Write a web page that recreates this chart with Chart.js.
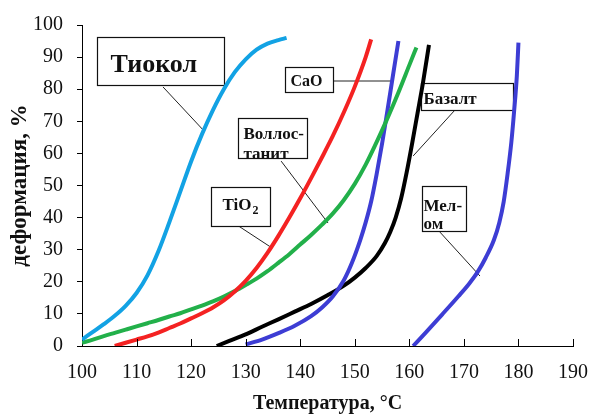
<!DOCTYPE html>
<html>
<head>
<meta charset="utf-8">
<script src="https://cdn.jsdelivr.net/npm/chart.js@4"></script>
<style>
  html, body { margin: 0; padding: 0; background: #fff; }
  #wrap { width: 591px; height: 416px; }
</style>
</head>
<body>
<div id="wrap"><canvas id="c" width="591" height="416"></canvas></div>
<script>
// Tick values of both axes
const xTicks = [100, 110, 120, 130, 140, 150, 160, 170, 180, 190];
const yTicks = [0, 10, 20, 30, 40, 50, 60, 70, 80, 90, 100];

// Deformation (%) versus temperature (°C), pairs [T, D]
const thiokol = [[100,2],[102,4.4],[104,6.8],[106,9.4],[108,12.5],[110,16.5],[112,22],[114,29.5],[116,38.5],[118,48],[120,57.5],[122,66],[124,73.5],[126,80],[128,85.3],[130,89.3],[132,92.3],[134,94.2],[136,95.3],[137.5,96]];
const tio2 = [[106,0],[108,1],[110,2],[112,3],[114,4.2],[116,5.6],[118,7],[120,8.6],[122,10.2],[124,12],[126,14.2],[128,17],[130,20.3],[132,24.3],[134,29],[136,34.3],[138,40],[140,46],[142,52.3],[144,58.8],[146,65.5],[148,72.8],[150,80.8],[152,90],[153,95.5]];
const wollastonite = [[100,1],[102,2],[104,3.1],[106,4.1],[108,5.1],[110,6.1],[112,7.1],[114,8.1],[116,9.2],[118,10.2],[120,11.4],[122,12.6],[124,13.9],[126,15.4],[128,17.1],[130,19],[132,21],[134,23.3],[136,25.9],[138,28.6],[140,31.6],[142,34.6],[144,37.8],[146,41.3],[148,45.5],[150,50.5],[152,56.5],[154,63.5],[156,71],[158,79],[160,87.5],[161.3,93]];
const cao = [[130,0.5],[133,2],[136,4],[139,6.3],[142,9.3],[144,12],[146,15.5],[148,20.5],[149.5,26],[151,33],[152,38.5],[153,45],[154,53.5],[155,63],[156,73.5],[157,84.3],[158,95]];
const basalt = [[124.7,0],[127,1.6],[130,3.6],[133,6],[136,8.3],[139,10.7],[142,13.1],[145,15.8],[148,18.8],[150,21.3],[152,24.3],[154,28],[155.5,32],[156.5,35.5],[157.5,40],[158.5,46],[159.5,54],[160.5,63],[161.5,72.5],[162.5,82],[163.6,93.8]];
const chalk = [[160.7,0],[163,4.2],[166,9.8],[169,15.5],[171,19.5],[172.5,23],[174,27.5],[175.5,33],[176.5,38.5],[177.3,45],[178,53.5],[178.7,63.5],[179.2,73],[179.7,84],[180,94.5]];

const toPoints = arr => arr.map(([x, y]) => ({ x, y }));

// Callout boxes: box corners and leader ends in axis units,
// text baselines in pixels from the box's top-left corner.
const callouts = [
  { box: [102.75, 96.3, 126.0, 81.3], from: [114.85, 80.7], to: [122.2, 67.3],
    size: 26, texts: [{ t: 'Тиокол', dx: 13, dy: 34 }] },
  { box: [137.2, 86.9, 146.0, 79.1], from: [146.0, 82.55], to: [156.8, 82.55],
    size: 16, texts: [{ t: 'CaO', dx: 5, dy: 18 }] },
  { box: [128.6, 71.0, 141.24, 58.6], from: [136.5, 57.6], to: [145.1, 38.3],
    size: 17, texts: [{ t: 'Воллос-', dx: 5, dy: 20 }, { t: 'танит', dx: 5, dy: 40 }] },
  { box: [123.65, 49.5, 134.46, 37.4], from: [128.4, 37.7], to: [134.6, 30.8],
    size: 17, texts: [{ t: 'TiO', dx: 11, dy: 22, sub: '2' }] },
  { box: [162.14, 81.9, 179.0, 73.5], from: [168.2, 73.2], to: [160.7, 59.2],
    size: 17, texts: [{ t: 'Базалт', dx: 2, dy: 20 }] },
  { box: [162.32, 49.8, 170.39, 35.8], from: [165.6, 35.5], to: [172.95, 21.8],
    size: 17, texts: [{ t: 'Мел-', dx: 1, dy: 24 }, { t: 'ом', dx: 1, dy: 42 }] }
];

const FONT = "'Liberation Serif', 'Times New Roman', serif";
Chart.defaults.font.family = FONT;
Chart.defaults.color = '#111';

const calloutPlugin = {
  id: 'callouts',
  beforeDatasetsDraw(chart) {
    const { ctx, scales: { x, y } } = chart;
    ctx.save();
    callouts.forEach(c => {
      // leader line
      ctx.beginPath();
      ctx.strokeStyle = '#222';
      ctx.lineWidth = 1;
      ctx.moveTo(x.getPixelForValue(c.from[0]), y.getPixelForValue(c.from[1]));
      ctx.lineTo(x.getPixelForValue(c.to[0]), y.getPixelForValue(c.to[1]));
      ctx.stroke();
      // box
      const x1 = Math.round(x.getPixelForValue(c.box[0])) + 0.5;
      const y1 = Math.round(y.getPixelForValue(c.box[1])) + 0.5;
      const x2 = Math.round(x.getPixelForValue(c.box[2])) + 0.5;
      const y2 = Math.round(y.getPixelForValue(c.box[3])) + 0.5;
      ctx.fillStyle = '#fff';
      ctx.fillRect(x1, y1, x2 - x1, y2 - y1);
      ctx.strokeStyle = '#111';
      ctx.lineWidth = 1.2;
      ctx.strokeRect(x1, y1, x2 - x1, y2 - y1);
      // text
      ctx.fillStyle = '#111';
      ctx.textAlign = 'left';
      ctx.textBaseline = 'alphabetic';
      c.texts.forEach(tx => {
        ctx.font = `bold ${c.size}px ${FONT}`;
        ctx.fillText(tx.t, x1 + tx.dx, y1 + tx.dy);
        if (tx.sub) {
          const w = ctx.measureText(tx.t).width;
          ctx.font = `bold ${Math.round(c.size * 0.72)}px ${FONT}`;
          ctx.fillText(tx.sub, x1 + tx.dx + w + 1, y1 + tx.dy + 4);
        }
      });
    });
    ctx.restore();
  },
  afterDraw(chart) {
    // inward tick marks on the temperature axis
    const { ctx, scales: { x } } = chart;
    ctx.save();
    ctx.strokeStyle = '#000';
    ctx.lineWidth = 1;
    xTicks.forEach(v => {
      if (v === x.min) return;
      const px = Math.round(x.getPixelForValue(v)) + 0.5;
      ctx.beginPath();
      ctx.moveTo(px, x.top);
      ctx.lineTo(px, x.top - 7);
      ctx.stroke();
    });
    ctx.restore();
  }
};

const line = (data, color) => ({
  data: toPoints(data),
  borderColor: color,
  borderWidth: 4,
  pointRadius: 0,
  fill: false,
  cubicInterpolationMode: 'monotone'
});

new Chart(document.getElementById('c'), {
  type: 'line',
  data: {
    datasets: [
      line(thiokol, '#12a2e4'),
      line(tio2, '#f42222'),
      line(wollastonite, '#22b04a'),
      line(cao, '#3d3dd4'),
      line(basalt, '#000000'),
      line(chalk, '#3d3dd4')
    ]
  },
  options: {
    responsive: false,
    animation: false,
    layout: { padding: { top: 25, right: 18, left: 0, bottom: 0 } },
    plugins: { legend: { display: false }, tooltip: { enabled: false } },
    scales: {
      x: {
        type: 'linear',
        min: 100, max: 190,
        afterBuildTicks: s => { s.ticks = xTicks.map(v => ({ value: v })); },
        afterFit: s => { s.height = 70; s.paddingLeft = 0; s.paddingRight = 0; },
        grid: { display: true, drawOnChartArea: false, drawTicks: false },
        border: { color: '#000', width: 1 },
        ticks: { font: { size: 20 }, color: '#111', padding: 15, maxRotation: 0, autoSkip: false },
        title: { display: true, text: 'Температура, °C', color: '#111',
                 font: { size: 20, weight: 'bold' }, padding: { top: 0, bottom: 0 } }
      },
      y: {
        type: 'linear',
        min: 0, max: 100,
        afterBuildTicks: s => { s.ticks = yTicks.map(v => ({ value: v })); },
        afterFit: s => { s.width = 82; s.paddingTop = 0; s.paddingBottom = 0; },
        grid: { display: true, drawOnChartArea: false, drawTicks: true, tickLength: 5, color: '#000' },
        border: { color: '#000', width: 1 },
        ticks: { font: { size: 20 }, color: '#111', padding: 14, autoSkip: false },
        title: { display: true, text: 'деформация, %', color: '#111',
                 font: { size: 23, weight: 'bold' }, padding: { top: 6, bottom: 0 } }
      }
    }
  },
  plugins: [calloutPlugin]
});
</script>
</body>
</html>
